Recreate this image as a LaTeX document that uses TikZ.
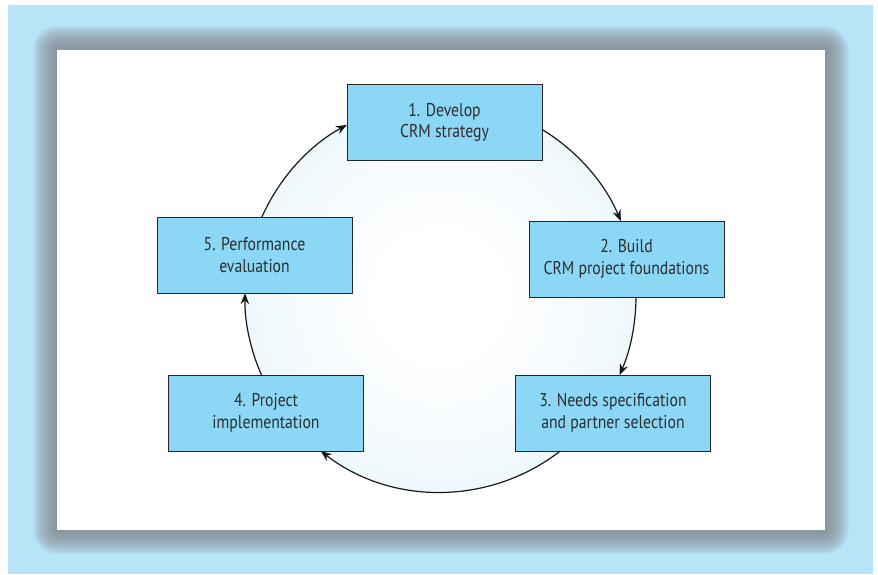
\documentclass[tikz,border=0pt]{standalone}
\usepackage{fontspec}
\setmainfont[FakeStretch=0.85]{PT Sans}
\usetikzlibrary{arrows.meta}
\definecolor{bgblue}{RGB}{184,228,248}
\definecolor{boxblue}{RGB}{140,215,246}
\definecolor{circedge}{RGB}{214,237,250}
\definecolor{shadowgray}{RGB}{135,140,148}
\definecolor{txt}{RGB}{45,45,45}
\pgfdeclareradialshading{circshade}{\pgfpoint{0bp}{0bp}}{color(0bp)=(white); color(8bp)=(white); color(50bp)=(circedge)}
\begin{document}
\begin{tikzpicture}[x=1pt,y=-1pt,
  stagebox/.style={draw=black!85, line width=1pt, fill=boxblue, minimum width=195pt, minimum height=76pt,
    align=center, font=\fontsize{18.5}{21.7}\selectfont, text=txt, inner sep=0pt},
  cyc/.style={line width=1.2pt, draw=black!90, -{Stealth[length=11pt,width=8.5pt]}}]
\useasboundingbox (0,0) rectangle (878,575);
\fill[white] (0,0) rectangle (878,575);
\fill[bgblue] (8,5) rectangle (873,574);
\foreach \i in {24,23,...,1}
  \fill[shadowgray, opacity=0.065, rounded corners=\i pt] ({57-\i},{50-\i}) rectangle ({825+\i},{530+\i});
\fill[white] (57,50) rectangle (825,530);
\coordinate (ctr) at (440.5,296.5);
\shade[shading=circshade] (ctr) circle[radius=195.5];
\node[stagebox] (s1) at (444.5,122.5) {1. Develop\\CRM strategy};
\node[stagebox] (s2) at (626.5,259) {2. Build\\CRM project foundations};
\node[stagebox] (s3) at (613,413) {3. Needs specification\\and partner selection};
\node[stagebox] (s4) at (266,413) {4. Project\\implementation};
\node[stagebox] (s5) at (254.5,255) {5. Performance\\evaluation};
\draw[cyc] (ctr) ++(-58.7:195.5) arc[start angle=-58.7, end angle=-22.7, radius=195.5];
\draw[cyc] (ctr) ++(0.15:195.5) arc[start angle=0.15, end angle=23.7, radius=195.5];
\draw[cyc] (ctr) ++(52.2:195.5) arc[start angle=52.2, end angle=127.8, radius=195.5];
\draw[cyc] (ctr) ++(156.3:195.5) arc[start angle=156.3, end angle=181, radius=195.5];
\draw[cyc] (ctr) ++(204:195.5) arc[start angle=204, end angle=241.4, radius=195.5];
\end{tikzpicture}
\end{document}
